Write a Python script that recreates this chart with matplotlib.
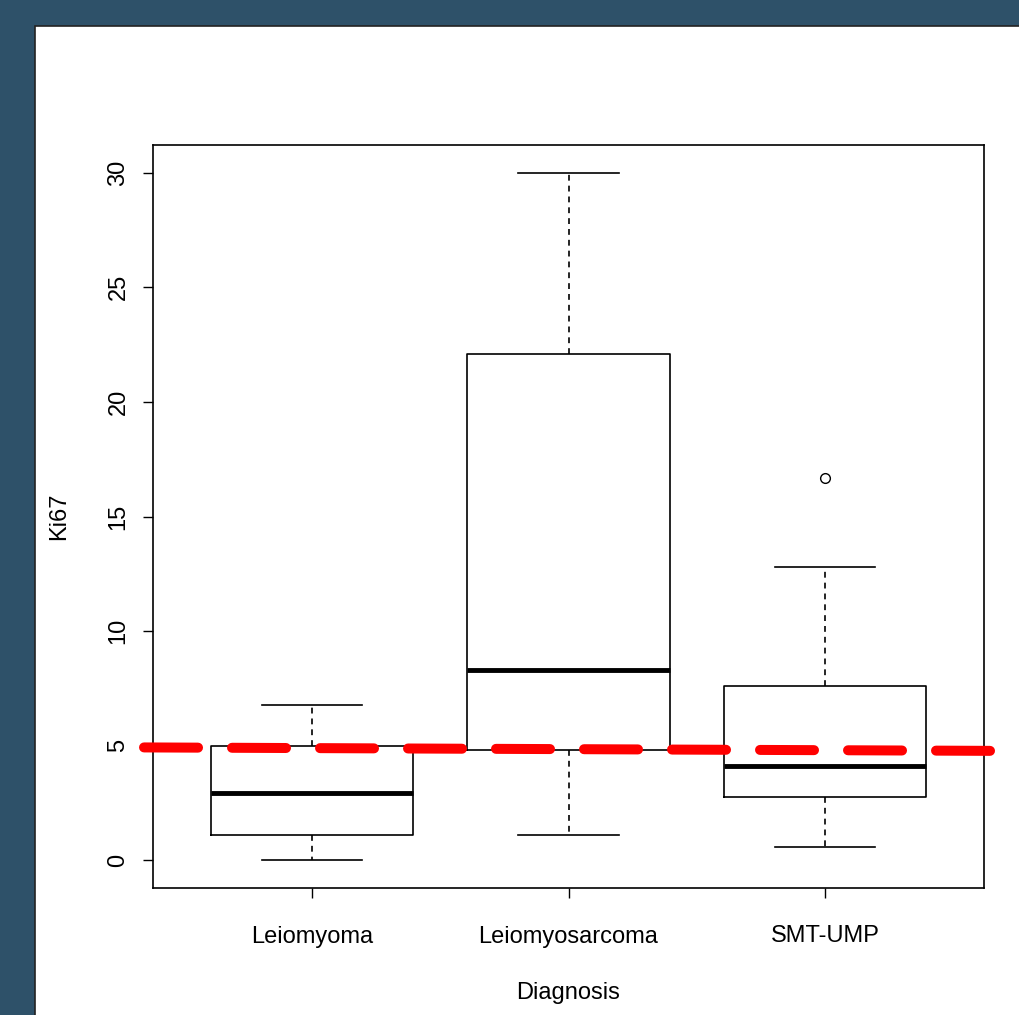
import matplotlib.pyplot as plt
from matplotlib.patches import Rectangle

plt.rcParams['font.family'] = ['Liberation Sans', 'DejaVu Sans']

# box statistics
diagnosis = ["Leiomyoma", "Leiomyosarcoma", "SMT-UMP"]
whis_lo = [0.0, 1.1, 0.6]
q1 = [1.1, 4.8, 2.75]
median = [2.95, 8.3, 4.1]
q3 = [5.0, 22.1, 7.6]
whis_hi = [6.8, 30.0, 12.8]
outliers = [[], [], [16.7]]

# cut-off line (drawn by hand, slightly tilted)
cut_x = [0.345, 3.655]
cut_y = [4.93, 4.78]

fig = plt.figure(figsize=(10.19, 10.15), dpi=100)
fig.patch.set_facecolor('#2e5169')
panel = Rectangle((35 / 1019, -0.01), 1, 1.01 - 26 / 1015, transform=fig.transFigure,
                  facecolor='white', edgecolor='#222222', lw=1.2, zorder=-10)
fig.add_artist(panel)

ax = fig.add_axes([153 / 1019, 1 - 888 / 1015, 831 / 1019, 743 / 1015])
ax.set_facecolor('none')

stats = []
for i in range(len(diagnosis)):
    stats.append(dict(med=median[i], q1=q1[i], q3=q3[i], whislo=whis_lo[i],
                      whishi=whis_hi[i], fliers=outliers[i], label=diagnosis[i]))

ax.bxp(stats, positions=[1, 2, 3], widths=0.79, showfliers=True,
       boxprops=dict(color='black', lw=1.2),
       medianprops=dict(color='black', lw=3.5, solid_capstyle='butt'),
       whiskerprops=dict(color='black', lw=1.2, linestyle=(0, (3.5, 3))),
       capprops=dict(color='black', lw=1.2),
       capwidths=0.39,
       flierprops=dict(marker='o', markersize=7, markerfacecolor='none',
                       markeredgecolor='black', markeredgewidth=1.0))

ax.plot(cut_x, cut_y, color='red', lw=7.2, linestyle=(0, (5.4, 3.4)),
        solid_capstyle='round', dash_capstyle='round', clip_on=False, zorder=5)

ax.set_xlim(0.38, 3.62)
ax.set_ylim(-1.2, 31.2)
ax.set_yticks([0, 5, 10, 15, 20, 25, 30])
ax.set_xticks([1, 2, 3])
ax.set_xticklabels(diagnosis)
for lab in ax.get_yticklabels():
    lab.set_rotation(90)
    lab.set_va('center')
ax.tick_params(axis='both', direction='out', length=7, width=1, labelsize=17, colors='black')
ax.tick_params(axis='x', pad=20)
ax.tick_params(axis='y', pad=10)
for s in ax.spines.values():
    s.set_linewidth(1.2)
ax.set_xlabel("Diagnosis", fontsize=17, labelpad=25)
ax.set_ylabel("Ki67", fontsize=17, labelpad=27)

fig.savefig("out.png", dpi=100, facecolor=fig.get_facecolor())
